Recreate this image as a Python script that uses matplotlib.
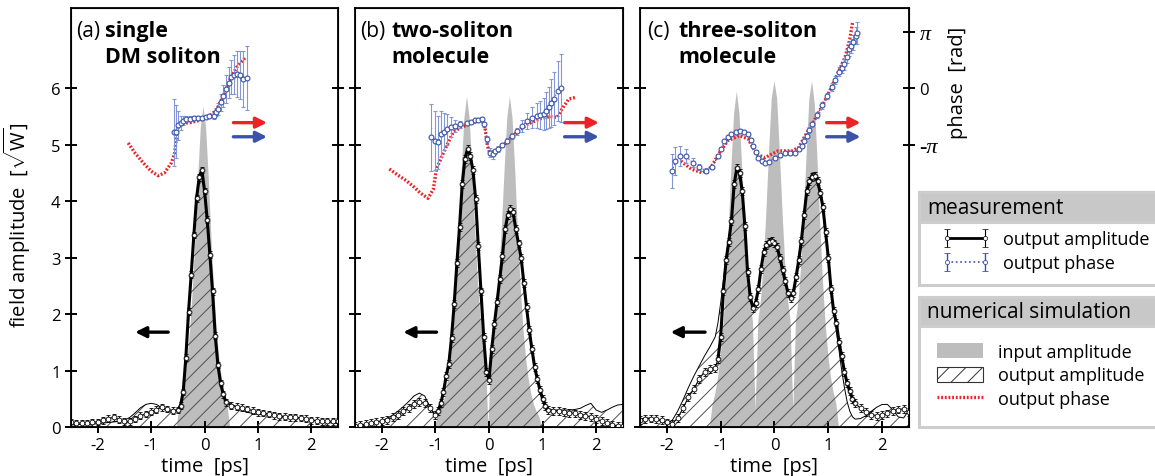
import numpy as np
import matplotlib
matplotlib.use('Agg')
import matplotlib.pyplot as plt
from matplotlib.patches import Rectangle, Patch
from matplotlib.lines import Line2D

plt.rcParams['font.family'] = ['Open Sans', 'DejaVu Sans']
plt.rcParams['axes.unicode_minus'] = False
plt.rcParams['hatch.linewidth'] = 0.7
plt.rcParams['mathtext.fontset'] = 'custom'
plt.rcParams['mathtext.rm'] = 'Open Sans'

RED = '#ec2227'
BLUE = '#3a52a8'
BLUE_ERR = '#8596d8'
GREY = '#bdbdbd'

# ---------------- (a) single DM soliton ----------------
a_in_t = [-0.53, -0.48, -0.43, -0.38, -0.33, -0.28, -0.23, -0.18, -0.13, -0.08, -0.03,
          0.02, 0.07, 0.12, 0.17, 0.22, 0.27, 0.32, 0.37, 0.42, 0.47]
a_in = [0.0, 0.39, 0.57, 0.83, 1.20, 1.72, 2.43, 3.35, 4.40, 5.31, 5.68,
        5.31, 4.40, 3.35, 2.43, 1.72, 1.20, 0.83, 0.57, 0.39, 0.0]

a_t = [-2.5, -2.4, -2.3, -2.2, -2.1, -2.0, -1.9, -1.8, -1.7, -1.6, -1.5, -1.4, -1.3, -1.2, -1.1,
       -1.0, -0.9, -0.8, -0.7, -0.6, -0.5,
       -0.45, -0.4, -0.35, -0.3, -0.25, -0.2, -0.15, -0.1, -0.05, 0.0, 0.05, 0.1, 0.15, 0.2,
       0.25, 0.3, 0.35, 0.4,
       0.5, 0.6, 0.7, 0.8, 0.9, 1.0, 1.1, 1.2, 1.3, 1.4, 1.5, 1.6, 1.7, 1.8, 1.9, 2.0,
       2.1, 2.2, 2.3, 2.4, 2.5]
a_meas = [0.08, 0.07, 0.07, 0.07, 0.08, 0.09, 0.12, 0.15, 0.17, 0.13, 0.10, 0.10, 0.14, 0.20, 0.23,
          0.27, 0.31, 0.35, 0.32, 0.29, 0.30,
          0.38, 0.62, 1.23, 2.04, 2.70, 3.40, 4.05, 4.42, 4.55, 4.18, 3.67, 3.05, 2.40, 1.62,
          1.10, 0.78, 0.58, 0.44,
          0.38, 0.36, 0.34, 0.32, 0.29, 0.26, 0.25, 0.23, 0.21, 0.19, 0.18, 0.17, 0.17, 0.16, 0.15, 0.12,
          0.11, 0.10, 0.10, 0.10, 0.10]
a_sim = [0.04, 0.04, 0.05, 0.05, 0.05, 0.06, 0.07, 0.08, 0.09, 0.10, 0.12, 0.17, 0.25, 0.34, 0.40,
         0.42, 0.40, 0.34, 0.28, 0.26, 0.28,
         0.36, 0.65, 1.28, 2.08, 2.75, 3.45, 4.10, 4.45, 4.58, 4.20, 3.70, 3.08, 2.42, 1.65,
         1.12, 0.80, 0.60, 0.48,
         0.40, 0.36, 0.30, 0.26, 0.24, 0.22, 0.22, 0.21, 0.21, 0.20, 0.19, 0.18, 0.17, 0.16, 0.15, 0.13,
         0.11, 0.10, 0.08, 0.07, 0.06]
a_meas_err = 0.06

# phase in units of pi
a_ph_t = [-0.57, -0.53, -0.49, -0.45, -0.41, -0.35, -0.28, -0.2, -0.12, -0.05, 0.02, 0.09, 0.17,
          0.22, 0.26, 0.31, 0.35, 0.4, 0.45, 0.5, 0.55, 0.6, 0.66, 0.72, 0.79]
a_ph = [-0.78, -0.77, -0.66, -0.62, -0.58, -0.55, -0.54, -0.53, -0.53, -0.52, -0.51, -0.5, -0.49,
        -0.42, -0.37, -0.25, -0.14, -0.02, 0.1, 0.2, 0.24, 0.25, 0.23, 0.16, 0.18]
a_ph_err = [0.59, 0.47, 0.25, 0.12, 0.08, 0.05, 0.04, 0.03, 0.03, 0.03, 0.03, 0.03, 0.05,
            0.07, 0.1, 0.15, 0.2, 0.25, 0.28, 0.3, 0.35, 0.4, 0.43, 0.5, 0.57]
a_ph_sim_t = [-1.43, -1.3, -1.15, -1.0, -0.87, -0.75, -0.62, -0.56, -0.53, -0.49, -0.4, -0.27,
              -0.1, 0.04, 0.15, 0.23, 0.35, 0.48, 0.6, 0.76]
a_ph_sim = [-0.97, -1.15, -1.32, -1.47, -1.55, -1.5, -1.32, -1.15, -0.9, -0.67, -0.62, -0.61,
            -0.57, -0.52, -0.45, -0.37, -0.14, 0.16, 0.37, 0.54]

# ---------------- (b) two-soliton molecule ----------------
b_in_t = [-1.02, -0.97, -0.92, -0.87, -0.82, -0.77, -0.72, -0.67, -0.62, -0.57, -0.52, -0.47,
          -0.42, -0.37, -0.32, -0.27, -0.22, -0.17, -0.12, -0.07, -0.02, 0.03, 0.08, 0.13,
          0.18, 0.23, 0.28, 0.33, 0.38, 0.43, 0.48, 0.53, 0.58, 0.63, 0.68, 0.73, 0.78, 0.83,
          0.88, 0.93, 0.98]
b_in = [0.0, 0.19, 0.28, 0.40, 0.59, 0.86, 1.24, 1.77, 2.51, 3.46, 4.54, 5.47,
        5.86, 5.47, 4.54, 3.56, 2.64, 1.96, 1.52, 1.26, 0.0, 1.26, 1.52, 1.96,
        2.64, 3.56, 4.54, 5.47, 5.86, 5.47, 4.54, 3.46, 2.51, 1.77, 1.24, 0.86, 0.59, 0.40,
        0.28, 0.19, 0.0]

b_t = [-2.5, -2.4, -2.3, -2.2, -2.1, -2.0, -1.9, -1.8, -1.7, -1.6, -1.5, -1.4, -1.3, -1.2, -1.1, -1.0,
       -0.95, -0.9, -0.85, -0.8, -0.75, -0.7, -0.65, -0.6, -0.55, -0.5, -0.45, -0.4, -0.35, -0.3,
       -0.25, -0.2, -0.15, -0.1, -0.05, 0.0, 0.05, 0.1, 0.15, 0.2, 0.25, 0.3, 0.35, 0.4, 0.45,
       0.5, 0.55, 0.6, 0.65, 0.7, 0.75, 0.8, 0.85, 0.9, 0.95, 1.0, 1.05, 1.1,
       1.2, 1.3, 1.4, 1.5, 1.6, 1.7, 1.8, 1.9, 2.0, 2.1, 2.2, 2.3, 2.4, 2.5]
b_meas = [0.02, 0.03, 0.05, 0.07, 0.09, 0.11, 0.13, 0.17, 0.22, 0.28, 0.34, 0.40, 0.44, 0.42, 0.33, 0.22,
          0.28, 0.42, 0.62, 0.90, 1.12, 1.58, 2.18, 2.90, 3.55, 4.30, 4.75, 4.92, 4.80, 4.55,
          4.04, 3.20, 2.40, 1.60, 0.98, 0.84, 1.38, 1.82, 2.22, 2.62, 3.03, 3.50, 3.75, 3.86, 3.80,
          3.50, 3.25, 2.99, 2.55, 2.12, 1.72, 1.38, 1.07, 0.85, 0.66, 0.50, 0.37, 0.30,
          0.28, 0.28, 0.26, 0.25, 0.24, 0.22, 0.20, 0.18, 0.14, 0.10, 0.07, 0.04, 0.02, 0.01]
b_sim = [0.0, 0.01, 0.03, 0.05, 0.08, 0.11, 0.15, 0.21, 0.28, 0.36, 0.45, 0.55, 0.60, 0.55, 0.35, 0.17,
         0.30, 0.45, 0.65, 0.92, 1.20, 1.62, 2.22, 2.95, 3.60, 4.32, 4.78, 4.95, 4.82, 4.57,
         4.06, 3.22, 2.42, 1.62, 0.98, 0.80, 1.35, 1.80, 2.20, 2.62, 3.05, 3.50, 3.78, 3.90, 3.82,
         3.52, 3.25, 3.00, 2.58, 2.15, 1.75, 1.40, 1.10, 0.88, 0.68, 0.52, 0.40, 0.32,
         0.30, 0.30, 0.30, 0.30, 0.31, 0.33, 0.38, 0.42, 0.30, 0.26, 0.30, 0.35, 0.39, 0.40]
b_meas_err = 0.07

b_ph_t = [-1.09, -1.01, -0.95, -0.89, -0.84, -0.79, -0.71, -0.64, -0.55, -0.42, -0.34, -0.26,
          -0.2, -0.14, -0.09, -0.04, 0.01, 0.07, 0.12, 0.17, 0.25, 0.33, 0.42, 0.52, 0.61, 0.71,
          0.8, 0.89, 0.96, 1.02, 1.07, 1.11, 1.16, 1.21, 1.28, 1.34]
b_ph = [-0.87, -0.93, -0.96, -0.81, -0.77, -0.73, -0.69, -0.67, -0.64, -0.62, -0.6, -0.57,
        -0.56, -0.54, -0.64, -0.9, -1.14, -1.17, -1.12, -1.08, -1.01, -0.93, -0.85, -0.76, -0.67,
        -0.58, -0.52, -0.49, -0.47, -0.46, -0.4, -0.34, -0.26, -0.19, -0.05, 0.01]
b_ph_err = [0.59, 0.52, 0.47, 0.4, 0.33, 0.27, 0.18, 0.1, 0.06, 0.04, 0.03, 0.03,
            0.03, 0.03, 0.04, 0.06, 0.08, 0.08, 0.05, 0.05, 0.04, 0.04, 0.05, 0.06, 0.1, 0.14,
            0.18, 0.22, 0.25, 0.28, 0.33, 0.37, 0.42, 0.47, 0.53, 0.6]
b_ph_sim_t = [-1.86, -1.7, -1.54, -1.4, -1.29, -1.14, -1.04, -0.98, -0.89, -0.79, -0.67, -0.54,
              -0.4, -0.29, -0.14, -0.08, -0.03, 0.02, 0.08, 0.14, 0.33, 0.52, 0.71, 0.96, 1.14,
              1.27, 1.36, 1.49, 1.63]
b_ph_sim = [-1.43, -1.54, -1.64, -1.75, -1.85, -1.95, -1.79, -1.43, -1.23, -1.02, -0.78, -0.7,
            -0.65, -0.61, -0.55, -0.67, -1.02, -1.17, -1.14, -1.11, -0.96, -0.78, -0.64, -0.54,
            -0.5, -0.52, -0.37, -0.19, -0.16]

# ---------------- (c) three-soliton molecule ----------------
c_in_t = [-1.21, -1.16, -1.11, -1.06, -1.01, -0.96, -0.91, -0.86, -0.81, -0.76, -0.71, -0.66,
          -0.61, -0.56, -0.51, -0.46, -0.41, -0.36, -0.31, -0.26, -0.21, -0.16, -0.11, -0.06,
          -0.01, 0.04, 0.09, 0.14, 0.19, 0.24, 0.29, 0.34, 0.39, 0.44, 0.49, 0.54, 0.59, 0.64,
          0.69, 0.74, 0.79, 0.84, 0.89, 0.94, 0.99, 1.04, 1.09, 1.14, 1.19]
c_in = [0.0, 0.41, 0.60, 0.87, 1.26, 1.80, 2.55, 3.51, 4.61, 5.56, 5.95, 5.56,
        4.61, 3.71, 2.84, 2.22, 1.88, 0.30, 1.89, 2.26, 2.91, 3.82, 4.89, 5.83,
        6.13, 5.83, 4.89, 3.82, 2.91, 2.26, 1.89, 0.30, 1.89, 2.26, 2.91, 3.82, 4.89, 5.83,
        6.13, 5.73, 4.75, 3.62, 2.62, 1.85, 1.29, 0.89, 0.62, 0.42, 0.0]

c_t = [-2.5, -2.4, -2.3, -2.2, -2.1, -2.0, -1.9, -1.8, -1.7, -1.6, -1.5, -1.4, -1.3, -1.2, -1.1,
       -1.05, -1.0, -0.95, -0.9, -0.85, -0.8, -0.75, -0.7, -0.65, -0.6, -0.55, -0.5, -0.45, -0.4,
       -0.35, -0.3, -0.25, -0.2, -0.15, -0.1, -0.05, 0.0, 0.05, 0.1, 0.15, 0.2, 0.25, 0.3, 0.35,
       0.4, 0.45, 0.5, 0.55, 0.6, 0.65, 0.7, 0.75, 0.8, 0.85, 0.9, 0.95, 1.0, 1.05, 1.1, 1.15,
       1.2, 1.25, 1.3, 1.35, 1.4, 1.45, 1.5,
       1.6, 1.7, 1.8, 1.9, 2.0, 2.1, 2.2, 2.3, 2.4, 2.5]
c_meas = [0.12, 0.14, 0.15, 0.14, 0.12, 0.08, 0.06, 0.16, 0.33, 0.53, 0.67, 0.85, 0.98, 1.03, 1.05,
          1.20, 1.60, 2.40, 2.95, 3.28, 3.65, 4.30, 4.58, 4.50, 4.18, 3.56, 2.74, 2.30, 2.10,
          2.20, 2.44, 2.80, 3.10, 3.22, 3.28, 3.30, 3.25, 3.18, 3.00, 2.78, 2.58, 2.38, 2.28, 2.38,
          2.65, 2.95, 3.30, 3.75, 4.18, 4.35, 4.43, 4.45, 4.35, 4.15, 3.90, 3.45, 3.00, 2.45, 2.05, 1.85,
          1.50, 1.25, 0.98, 0.78, 0.63, 0.50, 0.42,
          0.33, 0.26, 0.22, 0.20, 0.21, 0.24, 0.29, 0.31, 0.32, 0.26]
c_sim = [0.14, 0.16, 0.16, 0.14, 0.10, 0.05, 0.12, 0.28, 0.48, 0.70, 0.90, 1.08, 1.26, 1.42, 1.60,
         1.85, 2.20, 2.60, 3.00, 3.35, 3.72, 4.32, 4.62, 4.55, 4.22, 3.60, 2.80, 2.35, 2.12,
         2.22, 2.46, 2.82, 3.12, 3.26, 3.32, 3.35, 3.30, 3.20, 3.02, 2.80, 2.60, 2.40, 2.30, 2.40,
         2.68, 3.00, 3.35, 3.80, 4.22, 4.40, 4.50, 4.50, 4.40, 4.20, 3.95, 3.50, 3.00, 2.45, 2.05, 1.70,
         1.35, 1.00, 0.70, 0.45, 0.28, 0.18, 0.14,
         0.15, 0.20, 0.28, 0.35, 0.40, 0.40, 0.30, 0.18, 0.16, 0.30]
c_meas_err = 0.07

c_ph_t = [-1.9, -1.84, -1.75, -1.65, -1.52, -1.4, -1.27, -1.16, -1.05, -0.99, -0.93, -0.87, -0.8,
          -0.72, -0.65, -0.57, -0.49, -0.44, -0.4, -0.35, -0.3, -0.24, -0.18, -0.1, 0.01, 0.1,
          0.2, 0.29, 0.38, 0.45, 0.51, 0.55, 0.6, 0.65, 0.7, 0.79, 0.89, 0.98, 1.07, 1.13, 1.2,
          1.25, 1.29, 1.34, 1.38, 1.42, 1.46, 1.51, 1.53]
c_ph = [-1.46, -1.29, -1.2, -1.2, -1.32, -1.4, -1.46, -1.4, -1.2, -1.07, -0.93, -0.86, -0.81,
        -0.78, -0.76, -0.77, -0.81, -0.92, -1.02, -1.13, -1.23, -1.29, -1.32, -1.3, -1.23, -1.19,
        -1.15, -1.15, -1.14, -1.08, -1.02, -0.93, -0.84, -0.74, -0.64, -0.47, -0.3, -0.14, 0.02,
        0.15, 0.29, 0.36, 0.42, 0.55, 0.69, 0.75, 0.81, 0.93, 0.98]
c_ph_err = [0.3, 0.25, 0.18, 0.12, 0.08, 0.05, 0.04, 0.03, 0.03, 0.03, 0.03, 0.03, 0.03,
            0.03, 0.03, 0.03, 0.03, 0.03, 0.03, 0.03, 0.03, 0.03, 0.03, 0.03, 0.03, 0.03,
            0.03, 0.03, 0.03, 0.03, 0.03, 0.04, 0.04, 0.05, 0.05, 0.05, 0.06, 0.06, 0.07,
            0.07, 0.08, 0.09, 0.1, 0.11, 0.12, 0.13, 0.14, 0.15, 0.2]
c_ph_sim_t = [-1.74, -1.55, -1.34, -1.18, -1.02, -0.87, -0.65, -0.49, -0.33, -0.18, 0.07, 0.32,
              0.45, 0.57, 0.7, 0.89, 1.07, 1.2, 1.32, 1.4, 1.45]
c_ph_sim = [-1.29, -1.43, -1.5, -1.4, -1.14, -0.93, -0.84, -0.9, -1.17, -1.23, -1.11, -1.11,
            -1.05, -0.84, -0.64, -0.31, 0.04, 0.31, 0.57, 0.87, 1.16]


def draw_panel(ax, t_in, a_in, t, meas, meas_err, sim, core,
               ph_t, ph, ph_err, ph_sim_t, ph_sim, arrow_x, back_x):
    t = np.asarray(t)
    meas = np.asarray(meas)
    ax.fill_between(t_in, 0, a_in, color=GREY, lw=0, zorder=1)
    ax.fill_between(t, 0, sim, facecolor='none', edgecolor='#505050', hatch='//', lw=0, zorder=2)
    ax.plot(t, sim, color='k', lw=0.7, zorder=3)
    ax.errorbar(t, meas, yerr=meas_err, fmt='-o', color='k', lw=0.8, ms=3.5, mfc='white',
                mec='k', mew=0.6, elinewidth=0.6, capsize=1.5, zorder=4)
    m = (t >= core[0]) & (t <= core[1])
    ax.plot(t[m], meas[m], '-o', color='k', lw=2.2, ms=2.6, mfc='white', mec='k', mew=0.3, zorder=5)
    ax.annotate('', xy=(back_x[1], 1.68), xytext=(back_x[0], 1.68),
                arrowprops=dict(arrowstyle='-|>', color='k', lw=2.4, mutation_scale=16,
                                shrinkA=0, shrinkB=0))
    ax.set_xlim(-2.5, 2.5)
    ax.set_ylim(0, 7.42)
    ax.set_xticks([-2, -1, 0, 1, 2])
    ax.set_yticks([0, 1, 2, 3, 4, 5, 6])
    ax.tick_params(direction='inout', length=8, width=1.4, labelsize=12, top=False, right=False)
    for s in ax.spines.values():
        s.set_linewidth(1.3)
    ax.set_xlabel('time  [ps]', fontsize=14.5, labelpad=2)

    ax2 = ax.twinx()
    ax2.set_ylim(-6, 1.42)
    ax2.plot(ph_sim_t, ph_sim, color=RED, lw=2.4, ls=(0, (0.55, 0.55)), zorder=3)
    ax2.errorbar(ph_t, ph, yerr=ph_err, fmt=':o', color=BLUE, lw=0.8, ms=3.5, mfc='white',
                 mec=BLUE, mew=0.8, ecolor=BLUE_ERR, elinewidth=0.8, capsize=1.5, zorder=4)
    for y, col in ((-0.61, RED), (-0.86, BLUE)):
        ax2.annotate('', xy=(arrow_x[1], y), xytext=(arrow_x[0], y),
                     arrowprops=dict(arrowstyle='-|>', color=col, lw=2.4, mutation_scale=16,
                                     shrinkA=0, shrinkB=0))
    ax2.tick_params(direction='inout', length=8, width=1.4, labelsize=12)
    return ax2


fig = plt.figure(figsize=(11.55, 4.77), dpi=100)
ax_a = fig.add_axes([0.0615, 0.1027, 0.2312, 0.8784])
ax_b = fig.add_axes([0.3074, 0.1027, 0.2320, 0.8784])
ax_c = fig.add_axes([0.5541, 0.1027, 0.2329, 0.8784])

a2 = draw_panel(ax_a, a_in_t, a_in, a_t, a_meas, a_meas_err, a_sim, (-0.5, 0.45),
                a_ph_t, a_ph, a_ph_err, a_ph_sim_t, a_ph_sim, (0.54, 1.17), (-0.68, -1.30))
b2 = draw_panel(ax_b, b_in_t, b_in, b_t, b_meas, b_meas_err, b_sim, (-0.97, 1.12),
                b_ph_t, b_ph, b_ph_err, b_ph_sim_t, b_ph_sim, (1.41, 2.05), (-0.98, -1.60))
c2 = draw_panel(ax_c, c_in_t, c_in, c_t, c_meas, c_meas_err, c_sim, (-1.07, 1.5),
                c_ph_t, c_ph, c_ph_err, c_ph_sim_t, c_ph_sim, (0.97, 1.60), (-1.29, -1.93))

ax_b.set_yticklabels([])
ax_c.set_yticklabels([])
for a2x in (a2, b2):
    a2x.set_yticks([-2, -1, 0])
    a2x.set_yticklabels([])
c2.set_yticks([-1, 0, 1])
c2.set_yticklabels(['-π', '0', 'π'])
for lbl in c2.get_yticklabels():
    if 'π' in lbl.get_text():
        lbl.set_fontfamily('Liberation Serif')
        lbl.set_fontstyle('italic')
        lbl.set_fontsize(16)
c2.set_ylabel('phase  [rad]', fontsize=14.5)
c2.yaxis.set_label_coords(1.145, 0.823)

ax_a.set_ylabel('field amplitude  [$\\sqrt{\\mathrm{W}}$]', fontsize=14.5)
ax_a.yaxis.set_label_coords(-0.142, 0.484)

titles = [(ax_a, '(a)', 'single', 'DM soliton', 0.019, 0.127),
          (ax_b, '(b)', 'two-soliton', 'molecule', 0.019, 0.137),
          (ax_c, '(c)', 'three-soliton', 'molecule', 0.025, 0.142)]
for ax, tag, l1, l2, x1, x2 in titles:
    ax.text(x1, 0.933, tag, transform=ax.transAxes, fontsize=15, va='baseline', ha='left')
    ax.text(x2, 0.933, l1, transform=ax.transAxes, fontsize=15.5, fontweight='bold', va='baseline')
    ax.text(x2, 0.872, l2, transform=ax.transAxes, fontsize=15.5, fontweight='bold', va='baseline')

# legend boxes
lax = fig.add_axes([0, 0, 1, 1])
lax.set_axis_off()
lax.set_xlim(0, 1)
lax.set_ylim(0, 1)
box_ec = '#cdcdcd'
lax.add_patch(Rectangle((0.7957, 0.4004), 0.25, 0.195, facecolor='white', edgecolor=box_ec, lw=2.2))
lax.add_patch(Rectangle((0.7957, 0.5325), 0.25, 0.0629, facecolor='#c8c8c8', edgecolor=box_ec, lw=2.2))
lax.add_patch(Rectangle((0.7957, 0.1027), 0.25, 0.2726, facecolor='white', edgecolor=box_ec, lw=2.2))
lax.add_patch(Rectangle((0.7957, 0.3145), 0.25, 0.0608, facecolor='#c8c8c8', edgecolor=box_ec, lw=2.2))
lax.text(0.8026, 0.5639, 'measurement', fontsize=15, va='center', ha='left')
lax.text(0.8026, 0.3459, 'numerical simulation', fontsize=15, va='center', ha='left')

h_amp = lax.errorbar([2], [2], yerr=[0.1], fmt='-o', color='k', lw=2, ms=3, mfc='white', mec='k',
                     mew=0.5, elinewidth=0.8, capsize=2.5)
h_ph = lax.errorbar([2], [2], yerr=[0.1], fmt=':o', color=BLUE, lw=1.2, ms=3, mfc='white', mec=BLUE,
                    mew=0.6, ecolor=BLUE, elinewidth=1, capsize=2.5)
leg1 = lax.legend([h_amp, h_ph], ['output amplitude', 'output phase'], loc='upper left',
                  bbox_to_anchor=(0.8156, 0.5157), frameon=False, fontsize=13, numpoints=2,
                  handlelength=2.67, handletextpad=0.7, labelspacing=0.35, borderpad=0,
                  borderaxespad=0)
lax.add_artist(leg1)
h_in = Patch(facecolor=GREY, edgecolor='none')
h_out = Patch(facecolor='white', edgecolor='#333333', hatch='//', lw=0.8)
h_sim = Line2D([], [], color=RED, lw=2.4, ls=(0, (0.55, 0.55)))
lax.legend([h_in, h_out, h_sim], ['input amplitude', 'output amplitude', 'output phase'],
           loc='upper left', bbox_to_anchor=(0.8113, 0.2788), frameon=False, fontsize=13,
           handlelength=2.56, handleheight=0.9, handletextpad=0.83, labelspacing=0.3,
           borderpad=0, borderaxespad=0)

fig.savefig('out.png', dpi=100)
